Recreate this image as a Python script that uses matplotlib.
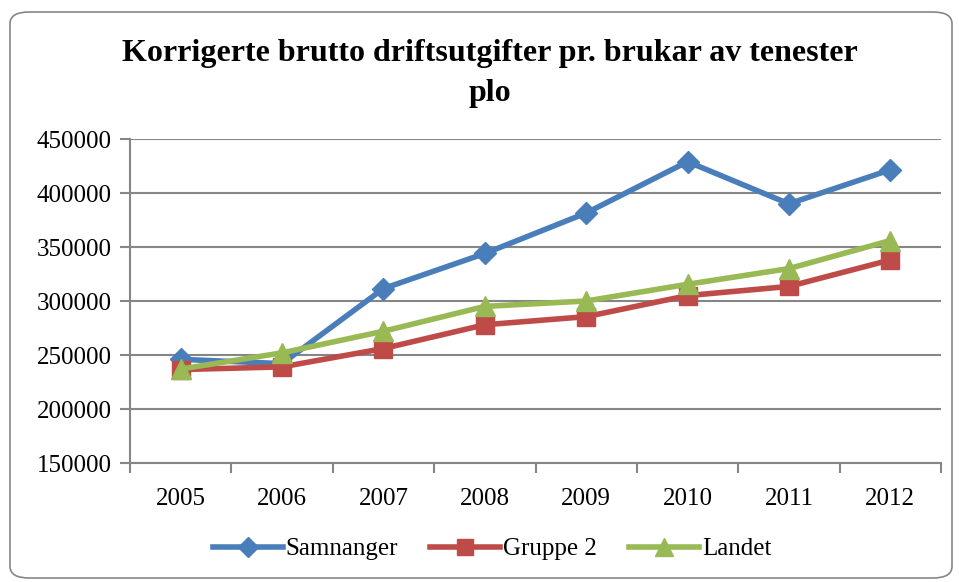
import matplotlib
matplotlib.use("Agg")
import matplotlib.pyplot as plt
from matplotlib.patches import FancyBboxPatch
import numpy as np

YEARS = ["2005", "2006", "2007", "2008", "2009", "2010", "2011", "2012"]
SAMNANGER = [246000, 242000, 311500, 344000, 381500, 429000, 390000, 421500]
GRUPPE_2 = [236500, 239000, 256000, 278000, 285500, 305000, 313500, 338000]
LANDET = [237000, 252000, 272000, 295000, 300000, 315500, 330000, 356000]
Y_TICKS = [150000, 200000, 250000, 300000, 350000, 400000, 450000]

TITLE = "Korrigerte brutto driftsutgifter pr. brukar av tenester\nplo"
GRID = "#868686"

plt.rcParams["font.family"] = ["Liberation Serif", "DejaVu Serif"]

fig = plt.figure(figsize=(9.59, 5.82), dpi=100)
border = FancyBboxPatch(
    (10 / 959, 4 / 582), 942 / 959, 566 / 582,
    boxstyle="round,pad=0,rounding_size=0.02",
    transform=fig.transFigure, facecolor="white", edgecolor=GRID, lw=1.2,
    zorder=-10,
)
fig.patches.append(border)

ax = fig.add_axes([130 / 959, 1 - 463 / 582, 811 / 959, 324 / 582])
ax.set_zorder(5)
ax.set_facecolor("none")
x = np.arange(len(YEARS))

ax.plot(x, SAMNANGER, color="#4A7EBB", lw=4, marker="D", ms=11, label="Samnanger", zorder=3)
ax.plot(x, GRUPPE_2, color="#BE4B48", lw=4, marker="s", ms=13, label="Gruppe 2", zorder=4)
ax.plot(x, LANDET, color="#98B954", lw=4, marker="^", ms=14, label="Landet", zorder=5)

ax.set_xlim(-0.5, len(YEARS) - 0.5)
ax.set_ylim(Y_TICKS[0], Y_TICKS[-1])
ax.set_yticks(Y_TICKS)
ax.set_yticklabels([str(v) for v in Y_TICKS], fontsize=18)
ax.set_xticks(x)
ax.set_xticklabels(YEARS, fontsize=18)
ax.set_xticks(np.arange(-0.5, len(YEARS)), minor=True)
ax.tick_params(axis="x", which="major", length=0, pad=18)
ax.tick_params(axis="x", which="minor", length=7, color=GRID, width=1.5)
ax.tick_params(axis="y", length=7, color=GRID, width=1.5, pad=6)
ax.grid(axis="y", color=GRID, lw=1.5)
ax.set_axisbelow(True)
for side in ["top", "right"]:
    ax.spines[side].set_visible(False)
for side in ["left", "bottom"]:
    ax.spines[side].set_color(GRID)
    ax.spines[side].set_linewidth(1.5)

fig.text(490 / 959, 1 - 73 / 582, TITLE, ha="center", va="center",
         fontsize=23, fontweight="bold", linespacing=1.5, zorder=6)

ax.legend(loc="center", bbox_to_anchor=(492 / 959, 1 - 549 / 582),
          bbox_transform=fig.transFigure, ncol=3, frameon=False,
          fontsize=18, handlelength=2.8, handletextpad=0.1, columnspacing=1.3,
          markerscale=0.9)

fig.savefig("out.png", dpi=100)
